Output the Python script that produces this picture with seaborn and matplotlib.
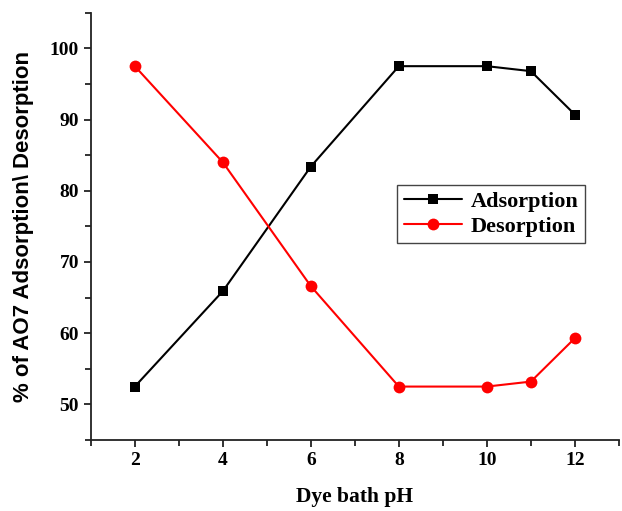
#!/usr/bin/env python3

import numpy as np
import matplotlib as mpl
mpl.use('Agg')
from matplotlib import pyplot as plt
from matplotlib.ticker import MultipleLocator
import seaborn as sns
import pandas as pd

sns.set_style('ticks')
plt.rcParams['text.color'] = 'black'
plt.rcParams['axes.labelcolor'] = 'black'
plt.rcParams['xtick.color'] = 'black'
plt.rcParams['ytick.color'] = 'black'

ph = [2, 4, 6, 8, 10, 11, 12]
adsorption = [52.5, 65.9, 83.4, 97.5, 97.5, 96.8, 90.7]
desorption = [97.5, 84.0, 66.6, 52.5, 52.5, 53.2, 59.3]

df = pd.DataFrame({
    'ph': ph * 2,
    'value': adsorption + desorption,
    'series': ['Adsorption'] * len(ph) + ['Desorption'] * len(ph)})

serif_bold = {'family': 'Liberation Serif', 'weight': 'bold'}

fig = plt.figure(figsize=(6.22, 5.11), dpi=100)
ax = fig.add_axes([0.146, 0.139, 0.849, 0.836])

sns.lineplot(data=df, x='ph', y='value', hue='series', style='series',
             palette={'Adsorption': 'black', 'Desorption': 'red'},
             markers={'Adsorption': 's', 'Desorption': 'o'}, dashes=False,
             markeredgewidth=0, linewidth=1.5, ax=ax)
for line in ax.lines:
    line.set_markersize(8.5 if line.get_marker() == 'o' else 7.5)

ax.set_xlim(1, 13)
ax.set_ylim(45, 105)
ax.xaxis.set_major_locator(mpl.ticker.FixedLocator([2, 4, 6, 8, 10, 12]))
ax.xaxis.set_minor_locator(mpl.ticker.FixedLocator([1, 3, 5, 7, 9, 11, 13]))
ax.yaxis.set_major_locator(MultipleLocator(10))
ax.yaxis.set_minor_locator(MultipleLocator(5))
ax.tick_params(which='major', length=5, width=1.3, color='#222222')
ax.tick_params(which='minor', length=4, width=1.3, color='#222222')
for lab in ax.get_xticklabels() + ax.get_yticklabels():
    lab.set_fontproperties(mpl.font_manager.FontProperties(size=14, **serif_bold))

sns.despine(ax=ax)
for s in ['left', 'bottom']:
    ax.spines[s].set_linewidth(1.3)
    ax.spines[s].set_color('#222222')

ax.set_xlabel('Dye bath pH', fontsize=15.5, labelpad=13, **serif_bold)
ax.set_ylabel('% of AO7 Adsorption\\ Desorption', fontsize=16,
              family='Liberation Sans', weight='bold', labelpad=11)

leg = ax.legend(loc='upper left', bbox_to_anchor=(0.580, 0.598), fancybox=False,
                edgecolor='#444444', framealpha=1, handlelength=2.6,
                borderpad=0.3, labelspacing=0.2, handletextpad=0.4,
                borderaxespad=0,
                prop=mpl.font_manager.FontProperties(size=16, **serif_bold))
leg.get_frame().set_linewidth(1.0)

fig.savefig('out.png', dpi=100)
